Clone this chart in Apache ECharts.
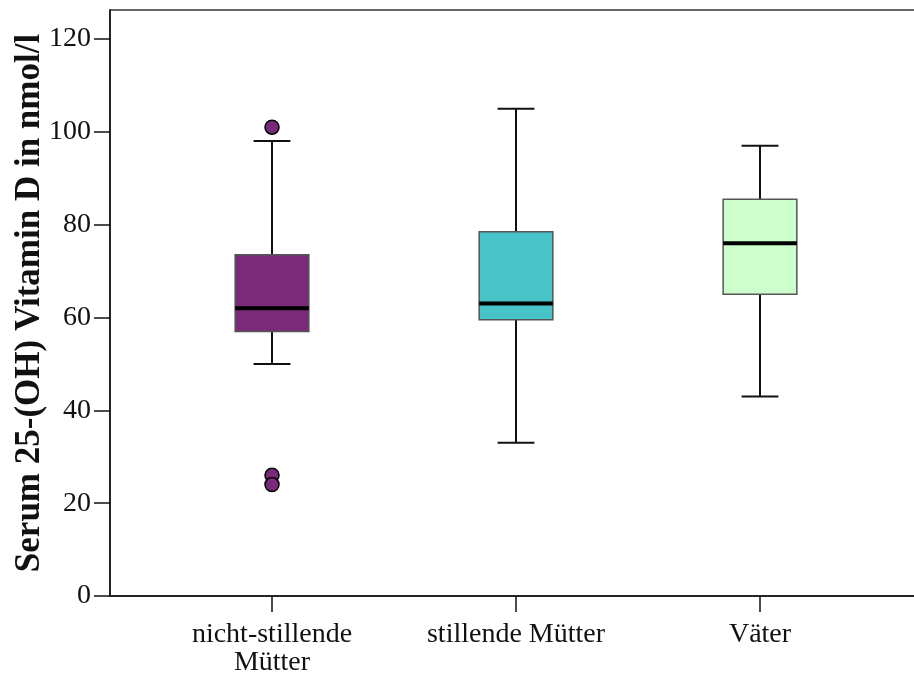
<!DOCTYPE html>
<html>
<head>
<meta charset="utf-8">
<script src="https://cdn.jsdelivr.net/npm/echarts@6/dist/echarts.min.js"></script>
<style>
  html, body { margin: 0; padding: 0; background: #fff; }
  #chart { width: 914px; height: 679px; }
</style>
</head>
<body>
<div id="chart"></div>
<script>
// Groups and their five-number summaries (nmol/l)
const categories = ['nicht-stillende\nMütter', 'stillende Mütter', 'Väter'];
const whiskerLow = [50, 33, 43];
const quartile1  = [57, 59.5, 65];
const medians    = [62, 63, 76];
const quartile3  = [73.5, 78.5, 85.5];
const whiskerHigh = [98, 105, 97];
const boxColors = ['#7a2a7a', '#48c3c8', '#ccffcc'];

// Outliers: [group index, value]
const outliers = [[0, 101], [0, 26], [0, 24]];

const yTicks = [0, 20, 40, 60, 80, 100, 120];

const FONT = '"Liberation Serif", "Times New Roman", serif';

const boxData = categories.map((c, i) => [i, whiskerLow[i], quartile1[i], medians[i], quartile3[i], whiskerHigh[i]]);

function renderBox(params, api) {
  const i = api.value(0);
  const band = api.size([1, 0])[0];
  const boxW = band * 0.302;
  const capW = boxW / 2;
  const pLow = api.coord([i, api.value(1)]);
  const pQ1 = api.coord([i, api.value(2)]);
  const pMed = api.coord([i, api.value(3)]);
  const pQ3 = api.coord([i, api.value(4)]);
  const pHigh = api.coord([i, api.value(5)]);
  const cx = pMed[0];
  const whisker = { stroke: '#111', lineWidth: 2 };
  return {
    type: 'group',
    children: [
      { type: 'line', shape: { x1: cx, y1: pHigh[1], x2: cx, y2: pQ3[1] }, style: whisker },
      { type: 'line', shape: { x1: cx, y1: pQ1[1], x2: cx, y2: pLow[1] }, style: whisker },
      { type: 'line', shape: { x1: cx - capW / 2, y1: pHigh[1], x2: cx + capW / 2, y2: pHigh[1] }, style: whisker },
      { type: 'line', shape: { x1: cx - capW / 2, y1: pLow[1], x2: cx + capW / 2, y2: pLow[1] }, style: whisker },
      { type: 'rect', shape: { x: cx - boxW / 2, y: pQ3[1], width: boxW, height: pQ1[1] - pQ3[1] },
        style: { fill: boxColors[params.dataIndex], stroke: '#555', lineWidth: 1.5 } },
      { type: 'line', shape: { x1: cx - boxW / 2, y1: pMed[1], x2: cx + boxW / 2, y2: pMed[1] },
        style: { stroke: '#000', lineWidth: 4 } }
    ]
  };
}

const chart = echarts.init(document.getElementById('chart'), null, { renderer: 'canvas' });

const frameLine = { show: true, lineStyle: { color: '#222', width: 2 } };
const off = { show: false };

chart.setOption({
  backgroundColor: '#ffffff',
  animation: false,
  grid: [
    { left: 110, right: 0, top: 10, bottom: 83, outerBoundsMode: 'none', containLabel: false },
    { left: 150, right: 32, top: 39, bottom: 83, outerBoundsMode: 'none', containLabel: false }
  ],
  xAxis: [
    { gridIndex: 0, type: 'value', min: 0, max: 1, position: 'bottom',
      axisLine: frameLine, axisTick: off, axisLabel: off, splitLine: off },
    { gridIndex: 0, type: 'value', min: 0, max: 1, position: 'top',
      axisLine: { show: true, lineStyle: { color: '#333', width: 1.5 } }, axisTick: off, axisLabel: off, splitLine: off },
    { gridIndex: 1, type: 'category', data: categories, boundaryGap: true,
      axisLine: off,
      axisTick: { show: true, alignWithLabel: true, length: 16, lineStyle: { color: '#111', width: 1.5 } },
      axisLabel: { margin: 25, color: '#111', fontFamily: FONT, fontSize: 28, lineHeight: 28 },
      splitLine: off }
  ],
  yAxis: [
    { gridIndex: 0, type: 'value', min: 0, max: 1,
      name: 'Serum 25-(OH) Vitamin D in nmol/l', nameLocation: 'middle', nameGap: 63,
      nameTextStyle: { fontFamily: FONT, fontWeight: 'bold', fontSize: 35, color: '#111' },
      axisLine: frameLine, axisTick: off, axisLabel: off, splitLine: off },
    { gridIndex: 1, type: 'value', min: yTicks[0], max: yTicks[yTicks.length - 1], interval: 20,
      offset: 40,
      axisLine: off,
      axisTick: { show: true, length: 16, lineStyle: { color: '#111', width: 1.5 } },
      axisLabel: { margin: 19, color: '#111', fontFamily: FONT, fontSize: 28 },
      splitLine: off }
  ],
  series: [
    { type: 'custom', xAxisIndex: 2, yAxisIndex: 1, renderItem: renderBox, data: boxData, z: 2 },
    { type: 'scatter', xAxisIndex: 2, yAxisIndex: 1, data: outliers, symbol: 'circle', symbolSize: 14, z: 3,
      itemStyle: { color: boxColors[0], borderColor: '#000', borderWidth: 1.5, opacity: 1 } }
  ]
});
</script>
</body>
</html>
